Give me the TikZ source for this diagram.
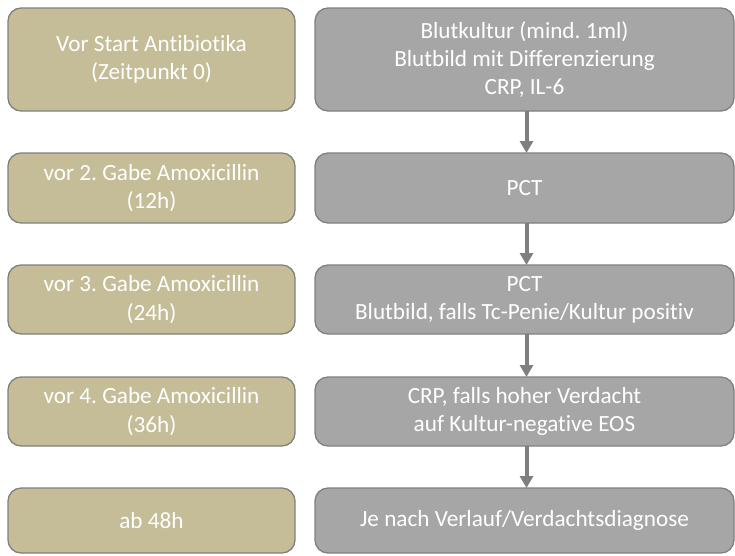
\documentclass[tikz,border=0pt]{standalone}
\usepackage{fontspec}
\setmainfont{Carlito}[Ligatures=NoCommon]
\usetikzlibrary{arrows.meta}
\frenchspacing
\definecolor{tanfill}{HTML}{C4BD97}
\definecolor{grayfill}{HTML}{A6A6A6}
\definecolor{edgegray}{HTML}{808080}
\definecolor{arrowgray}{HTML}{7F7F7F}
\tikzset{
  box/.style={draw=edgegray, line width=1.3pt, rounded corners=13pt, align=center,
    text=white, font=\fontsize{23.2}{28.3}\selectfont, inner sep=0pt, outer sep=0pt},
  timebox/.style={box, fill=tanfill, minimum width=287pt},
  labbox/.style={box, fill=grayfill, minimum width=419pt},
  flow/.style={draw=arrowgray, line width=4pt, -{Triangle[width=13pt,length=12pt]}}
}
\begin{document}
\begin{tikzpicture}[x=1pt,y=-1pt]
\useasboundingbox (0,0) rectangle (735,555);
% left column
\node[timebox, minimum height=103pt] (t1) at (151.5,59.5) {Vor Start Antibiotika\\(Zeitpunkt 0)};
\node[timebox, minimum height=70pt] (t2) at (151.5,188) {vor 2. Gabe Amoxicillin\\(12h)};
\node[timebox, minimum height=69pt] (t3) at (151.5,299.5) {vor 3. Gabe Amoxicillin\\(24h)};
\node[timebox, minimum height=69pt] (t4) at (151.5,411.5) {vor 4. Gabe Amoxicillin\\(36h)};
\node[timebox, minimum height=65pt] (t5) at (151.5,520.5) {ab 48h};
% right column
\node[labbox, minimum height=103pt] (l1) at (524.5,59.5) {Blutkultur (mind. 1ml)\\Blutbild mit Differenzierung\\CRP, IL-6};
\node[labbox, minimum height=70pt] (l2) at (524.5,188) {PCT};
\node[labbox, minimum height=69pt] (l3) at (524.5,299.5) {PCT\\Blutbild, falls Tc-Penie/Kultur positiv};
\node[labbox, minimum height=69pt] (l4) at (524.5,411.5) {CRP, falls hoher Verdacht\\auf Kultur-negative EOS};
\node[labbox, minimum height=65pt] (l5) at (524.5,520.5) {Je nach Verlauf/Verdachtsdiagnose};
% arrows
\draw[flow] ([xshift=2pt]l1.south) -- ([xshift=2pt]l2.north);
\draw[flow] ([xshift=2pt]l2.south) -- ([xshift=2pt]l3.north);
\draw[flow] ([xshift=2pt]l3.south) -- ([xshift=2pt]l4.north);
\draw[flow] ([xshift=2pt]l4.south) -- ([xshift=2pt]l5.north);
\end{tikzpicture}
\end{document}
